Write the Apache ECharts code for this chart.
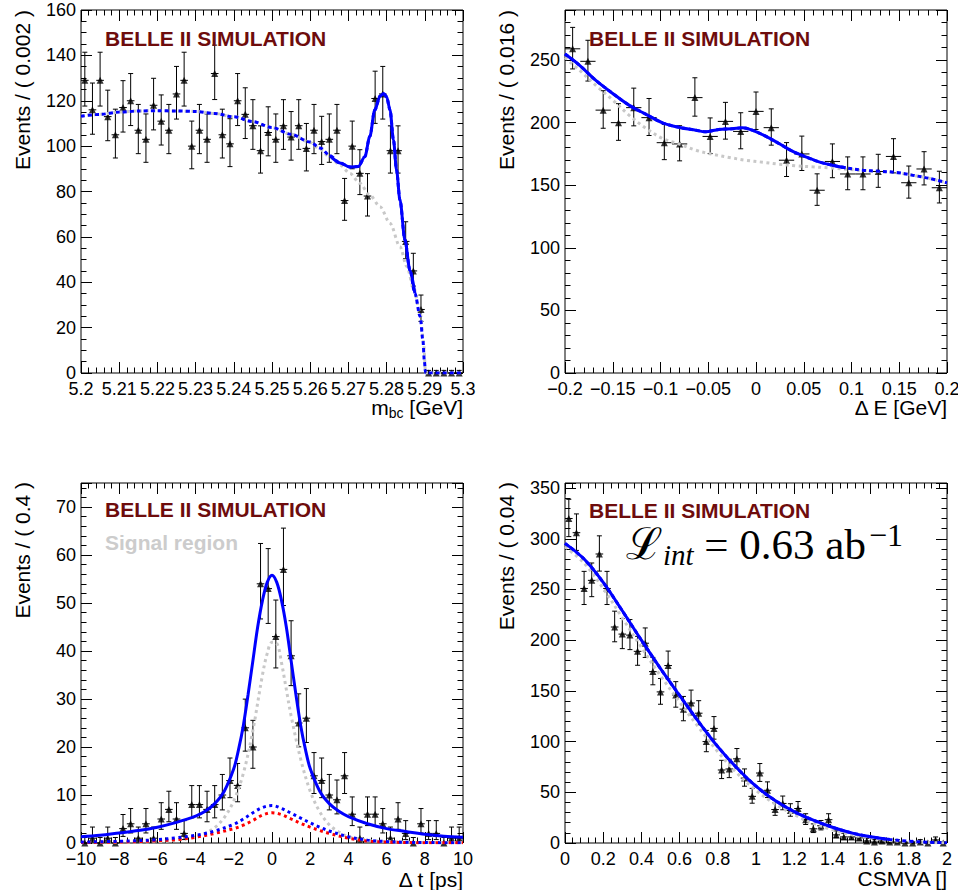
<!DOCTYPE html>
<html>
<head>
<meta charset="utf-8">
<script src="https://cdn.jsdelivr.net/npm/echarts@6.0.0/dist/echarts.min.js"></script>
<style>
  html, body { margin: 0; padding: 0; background: #fff; }
  #chart { width: 958px; height: 890px; }
</style>
</head>
<body>
<div id="chart"></div>
<script>
// ---------- m_bc panel ----------
const mbcLow = 5.2, mbcBin = 0.002;
const mbcCounts = [129, 116, 129, 113, 105, 117, 120, 107, 103, 118, 111, 107, 123, 129, 100, 107, 103, 132, 105, 101,
  120, 114, 109, 98, 106, 103, 109, 104, 109, 99, 107, 102, 103, 107, 76, 100, 88, 78, 121, 123,
  98, 98, 58, 45, 28, 0, 0, 0, 0, 0];
const mbcTotal = [[5.200, 113.2], [5.205, 114.0], [5.210, 115.0], [5.215, 115.5], [5.220, 115.6], [5.225, 115.5],
  [5.230, 115.3], [5.235, 114.4], [5.240, 112.9], [5.245, 110.8], [5.250, 108.2], [5.255, 105.2], [5.260, 101.8],
  [5.2626, 99.2], [5.2652, 95.8], [5.2678, 92.6], [5.2704, 90.8], [5.2726, 91.0], [5.2743, 95.3], [5.2756, 104.2],
  [5.2769, 115.9], [5.2783, 122.1], [5.2792, 123.2], [5.2800, 121.8], [5.2809, 115.9], [5.2818, 102.7],
  [5.2826, 89.5], [5.2835, 76.2], [5.2848, 58.6], [5.2861, 45.4], [5.2874, 35.1], [5.2888, 24.8], [5.2895, 14.5],
  [5.2899, 5.0], [5.2902, 0], [5.2920, 0], [5.3000, 0]];
const mbcBkg = [[5.200, 113.2], [5.205, 114.0], [5.210, 115.0], [5.215, 115.5], [5.220, 115.6], [5.225, 115.5],
  [5.230, 115.3], [5.235, 114.4], [5.240, 112.9], [5.245, 110.8], [5.250, 108.2], [5.255, 105.2], [5.260, 101.6],
  [5.2626, 98.5], [5.2652, 95.0], [5.2678, 91.7], [5.2704, 88.0], [5.2730, 83.6], [5.2756, 78.4], [5.2783, 73.3],
  [5.2809, 66.0], [5.2835, 55.7], [5.2853, 46.9], [5.2870, 38.1], [5.2888, 26.4], [5.2897, 13.2], [5.2902, 0],
  [5.2920, 0], [5.3000, 0]];
const mbcXLabels = ['5.2', '5.21', '5.22', '5.23', '5.24', '5.25', '5.26', '5.27', '5.28', '5.29', '5.3'];
const mbcYLabels = ['0', '20', '40', '60', '80', '100', '120', '140', '160'];

// ---------- Delta E panel ----------
const deLow = -0.2, deBin = 0.016;
const deCounts = [259, 249, 210, 200, 212, 204, 184, 183, 220, 189, 201, 193, 209, 196, 170, 175, 146, 169, 159, 159,
  161, 173, 152, 163, 148];
const deTotal = [[-0.2, 254.8], [-0.185, 246], [-0.168, 234], [-0.15, 223.3], [-0.133, 214], [-0.115, 206.6],
  [-0.098, 199.9], [-0.08, 196.2], [-0.063, 194], [-0.053, 192.7], [-0.039, 194.6], [-0.025, 195.1], [-0.014, 195.9],
  [-0.004, 194], [0.01, 189.2], [0.024, 183.4], [0.038, 177.2], [0.052, 172.7], [0.066, 168.7], [0.08, 166],
  [0.094, 163.9], [0.112, 162], [0.129, 161.2], [0.147, 160.2], [0.164, 158], [0.182, 155.4], [0.2, 151.9]];
const deBkg = [[-0.2, 252], [-0.185, 242], [-0.168, 230], [-0.15, 218], [-0.133, 206], [-0.115, 195.4],
  [-0.098, 187.4], [-0.08, 182.8], [-0.063, 178], [-0.046, 174.8], [-0.028, 172.2], [-0.011, 170], [0.007, 168.4],
  [0.024, 166.8], [0.042, 165.5], [0.059, 164.7], [0.077, 163.9], [0.094, 162.8], [0.112, 161.8], [0.129, 161.0],
  [0.147, 160.0], [0.164, 158], [0.182, 155.4], [0.2, 151.9]];
const deXLabels = ['\u22120.2', '\u22120.15', '\u22120.1', '\u22120.05', '0', '0.05', '0.1', '0.15', '0.2'];
const deYLabels = ['0', '50', '100', '150', '200', '250'];

// ---------- Delta t panel ----------
const dtLow = -10, dtBin = 0.4;
const dtCounts = [0, 1, 0, 1, 0, 3, 4, 1, 4, 1, 5, 7, 5, 2, 8, 8, 7, 8, 10, 13,
  12, 24, 20, 54, 53, 43, 57, 39, 25, 26, 14, 13, 10, 9, 14, 6, 1, 6, 6, 4,
  1, 5, 2, 0, 4, 2, 2, 0, 1, 1];
const dtTotal = [[-10, 1.3], [-9, 1.6], [-8, 2.1], [-7, 2.6], [-6, 3.3], [-5, 4.3], [-4, 5.6], [-3.5, 6.6], [-3, 8.2],
  [-2.5, 10.8], [-2, 15.5], [-1.75, 19.5], [-1.5, 24.5], [-1.25, 31], [-1, 38], [-0.75, 45], [-0.5, 50.5],
  [-0.25, 54.3], [0, 55.8], [0.25, 54.3], [0.5, 50.5], [0.75, 45], [1, 38], [1.25, 31], [1.5, 24.5], [1.75, 19.5],
  [2, 15.5], [2.5, 10.8], [3, 8.2], [3.5, 6.6], [4, 5.5], [5, 4.0], [6, 3.0], [7, 2.4], [8, 1.8], [9, 1.4], [10, 1.2]];
const dtSignal = [[-10, 0.1], [-8, 0.1], [-6, 0.3], [-5, 0.6], [-4, 1.3], [-3.5, 2.0], [-3, 3.2], [-2.5, 5.3],
  [-2, 8.8], [-1.5, 14.5], [-1, 23.5], [-0.5, 35], [-0.25, 39.5], [0, 41.8], [0.25, 41.6], [0.5, 37.5], [0.75, 32],
  [1, 26.5], [1.5, 17.5], [2, 10.8], [2.5, 6.5], [3, 3.8], [3.5, 2.3], [4, 1.3], [5, 0.6], [6, 0.3], [8, 0.1], [10, 0.1]];
const dtBlueComp = [[-10, 0.2], [-8, 0.35], [-6, 0.7], [-5, 1.1], [-4, 1.6], [-3, 2.5], [-2, 3.9], [-1.5, 5.0],
  [-1, 6.3], [-0.5, 7.4], [0, 7.8], [0.5, 7.2], [1, 6.2], [1.5, 5.2], [2, 4.2], [2.5, 3.3], [3, 2.5], [4, 1.3],
  [5, 0.6], [6, 0.3], [7, 0.15], [8, 0.1], [10, 0.05]];
const dtRedComp = [[-10, 0.1], [-8, 0.2], [-7, 0.3], [-6, 0.45], [-5, 0.7], [-4, 1.2], [-3, 2.0], [-2, 3.0],
  [-1.5, 3.7], [-1, 4.7], [-0.5, 5.8], [0, 6.3], [0.5, 5.9], [1, 5.0], [1.5, 4.1], [2, 3.3], [2.5, 2.6], [3, 2.0],
  [4, 1.0], [5, 0.4], [6, 0.2], [7, 0.1], [8, 0.05], [10, 0.05]];
const dtXLabels = ['\u221210', '\u22128', '\u22126', '\u22124', '\u22122', '0', '2', '4', '6', '8', '10'];
const dtYLabels = ['0', '10', '20', '30', '40', '50', '60', '70'];

// ---------- CSMVA panel ----------
const csLow = 0, csBin = 0.04;
const csCounts = [320, 306, 251, 259, 285, 251, 213, 206, 205, 189, 197, 169, 149, 175, 146, 132, 138, 128, 100, 113,
  72, 73, 83, 64, 46, 69, 52, 33, 39, 32, 34, 23, 14, 17, 23, 8, 6, 6, 5, 2,
  1, 2, 1, 1, 0, 0, 1, 0, 3, 0];
const csTotal = [[0, 295.5], [0.1, 280], [0.2, 257], [0.3, 229], [0.4, 200], [0.5, 172], [0.6, 145.5], [0.7, 119.5],
  [0.8, 95], [0.9, 74], [1.0, 56], [1.1, 42], [1.2, 31], [1.3, 22.5], [1.4, 15.5], [1.5, 10], [1.6, 6.2], [1.7, 3.5],
  [1.8, 1.8], [1.9, 0.8], [2.0, 0.3]];
const csBkg = [[0, 292], [0.1, 276], [0.2, 251], [0.3, 222], [0.4, 193], [0.5, 165], [0.6, 139], [0.7, 114],
  [0.8, 90], [0.9, 69], [1.0, 52], [1.1, 38.5], [1.2, 28], [1.3, 19.5], [1.4, 13], [1.5, 8], [1.6, 4.8], [1.7, 2.5],
  [1.8, 1.1], [1.9, 0.4], [2.0, 0.1]];
const csXLabels = ['0', '0.2', '0.4', '0.6', '0.8', '1', '1.2', '1.4', '1.6', '1.8', '2'];
const csYLabels = ['0', '50', '100', '150', '200', '250', '300', '350'];

const FONT = '"Liberation Sans", Arial, Helvetica, sans-serif';
const SERIF = '"Liberation Serif", "DejaVu Serif", serif';
const BELLE_RED = '#6e0c0c';
const BLUE = '#0000ff';
const GRAY = '#c8c8c8';

// poisson 68% interval (Gehrels approximation), like RooFit data points
function poissonBand(n) {
  if (n === 0) return [0, 1.148];
  const lo = n * Math.pow(1 - 1 / (9 * n) - 1 / (3 * Math.sqrt(n)), 3);
  const hi = n + Math.sqrt(n + 0.75) + 1;
  return [lo, hi];
}

function makeAxes(dim, gi, min, max, major, minor, labels) {
  const sides = dim === 'x' ? ['bottom', 'top'] : ['left', 'right'];
  const out = [];
  sides.forEach((pos, si) => {
    [[major, 11], [minor, 5.5]].forEach(([step, len], ki) => {
      const withLabels = si === 0 && ki === 0;
      out.push({
        type: 'value', gridIndex: gi, position: pos, min: min, max: max, interval: step,
        axisLine: { show: false, onZero: false },
        splitLine: { show: false },
        axisTick: { show: true, inside: true, length: len, lineStyle: { color: '#000', width: 1 } },
        axisLabel: withLabels ? {
          show: true, fontSize: 18, fontFamily: FONT, color: '#000',
          margin: dim === 'x' ? 7 : 5, showMinLabel: true, showMaxLabel: true, hideOverlap: false,
          formatter: (v) => {
            const i = Math.round((v - min) / major);
            if (Math.abs(min + i * major - v) > major * 1e-3) return '';
            return labels[i] !== undefined ? labels[i] : '';
          }
        } : { show: false },
        silent: true
      });
    });
  });
  return out;
}

function errorBarItem(halfWidth) {
  return function (params, api) {
    const x = api.value(0), y = api.value(1), lo = api.value(2), hi = api.value(3);
    const pLo = api.coord([x, lo]);
    const pHi = api.coord([x, hi]);
    const pL = api.coord([x - halfWidth, y]);
    const pR = api.coord([x + halfWidth, y]);
    const cap = 2.5;
    const style = { stroke: '#000', lineWidth: 1 };
    return {
      type: 'group',
      children: [
        { type: 'line', shape: { x1: pLo[0], y1: pLo[1], x2: pHi[0], y2: pHi[1] }, style: style },
        { type: 'line', shape: { x1: pLo[0] - cap, y1: pLo[1], x2: pLo[0] + cap, y2: pLo[1] }, style: style },
        { type: 'line', shape: { x1: pHi[0] - cap, y1: pHi[1], x2: pHi[0] + cap, y2: pHi[1] }, style: style },
        { type: 'line', shape: { x1: pL[0], y1: pL[1], x2: pR[0], y2: pR[1] }, style: style }
      ]
    };
  };
}

function dataSeries(gi, low, bin, counts) {
  const pts = counts.map((n, i) => {
    const band = poissonBand(n);
    return [low + bin * (i + 0.5), n, band[0], band[1]];
  });
  return [
    {
      type: 'custom', xAxisIndex: 4 * gi, yAxisIndex: 4 * gi, data: pts,
      dimensions: ['x', 'y', 'lo', 'hi'], encode: { x: 0, y: 1 },
      renderItem: errorBarItem(bin / 2), clip: false, silent: true, z: 3
    },
    {
      type: 'scatter', xAxisIndex: 4 * gi, yAxisIndex: 4 * gi,
      data: pts.map(p => [p[0], p[1]]), symbol: 'triangle', symbolSize: 7,
      itemStyle: { color: '#000' }, clip: false, silent: true, z: 4
    }
  ];
}

// monotone smoothing only where the curve has a hard corner (m_bc end point)
function curve(gi, pts, color, dash, z, monotone) {
  return {
    type: 'line', xAxisIndex: 4 * gi, yAxisIndex: 4 * gi, data: pts,
    showSymbol: false, smooth: monotone ? 0.3 : 0.35, smoothMonotone: monotone ? 'x' : null,
    silent: true, z: z,
    lineStyle: { color: color, width: 3, type: dash, cap: 'butt' }
  };
}

const inRange = (pts, a, b) => pts.filter(p => p[0] >= a && p[0] <= b);

const grids = [
  { left: 81, top: 10, width: 382, height: 363 },
  { left: 565, top: 10, width: 382, height: 363 },
  { left: 81, top: 483, width: 382, height: 360 },
  { left: 565, top: 483, width: 382, height: 360 }
].map(g => Object.assign({
  show: true, borderColor: '#000', borderWidth: 1, backgroundColor: 'transparent',
  containLabel: false, outerBoundsMode: 'none'
}, g));

const xAxes = [].concat(
  makeAxes('x', 0, 5.2, 5.3, 0.01, 0.002, mbcXLabels),
  makeAxes('x', 1, -0.2, 0.2, 0.05, 0.01, deXLabels),
  makeAxes('x', 2, -10, 10, 2, 0.4, dtXLabels),
  makeAxes('x', 3, 0, 2, 0.2, 0.04, csXLabels)
);
const yAxes = [].concat(
  makeAxes('y', 0, 0, 160, 20, 5, mbcYLabels),
  makeAxes('y', 1, 0, 290, 50, 10, deYLabels),
  makeAxes('y', 2, 0, 75, 10, 2, dtYLabels),
  makeAxes('y', 3, 0, 355, 50, 10, csYLabels)
);

const DASH = [4, 3];
const DOT = [3, 3.5];

const series = [].concat(
  dataSeries(0, mbcLow, mbcBin, mbcCounts),
  [curve(0, mbcBkg, GRAY, DOT, 5, true),
   curve(0, mbcTotal, BLUE, DASH, 8, true),
   curve(0, inRange(mbcTotal, 5.2652, 5.2874), BLUE, 'solid', 9, true)],
  dataSeries(1, deLow, deBin, deCounts),
  [curve(1, deBkg, GRAY, DOT, 5),
   curve(1, deTotal, BLUE, DASH, 8),
   curve(1, inRange(deTotal, -0.2, 0.105), BLUE, 'solid', 9)],
  dataSeries(2, dtLow, dtBin, dtCounts),
  [curve(2, dtSignal, GRAY, DOT, 5),
   curve(2, dtRedComp, '#ff0000', DOT, 6),
   curve(2, dtBlueComp, BLUE, DOT, 7),
   curve(2, dtTotal, BLUE, 'solid', 9)],
  dataSeries(3, csLow, csBin, csCounts),
  [curve(3, csBkg, GRAY, DOT, 5),
   curve(3, csTotal, BLUE, DASH, 8),
   curve(3, inRange(csTotal, 0, 1.71), BLUE, 'solid', 9)]
);

function label(x, y, text, opts) {
  return {
    type: 'text', x: x, y: y, rotation: opts.rotation || 0, silent: true, z: 20,
    style: Object.assign({
      text: text, fill: '#000', fontFamily: FONT, fontSize: 21,
      align: opts.align || 'left', textAlign: opts.align || 'left',
      verticalAlign: 'middle', textVerticalAlign: 'middle'
    }, opts.style || {})
  };
}

const belle = (x, y) => label(x, y, 'BELLE II SIMULATION', {
  style: { fill: BELLE_RED, fontWeight: 'bold', fontSize: 21 }
});
const yTitle = (x, y, text) => label(x, y, text, { rotation: Math.PI / 2, align: 'right' });
const subRich = {
  a: { fontSize: 21, fontFamily: FONT, lineHeight: 26, verticalAlign: 'middle' },
  b: { fontSize: 14, fontFamily: FONT, lineHeight: 14, verticalAlign: 'bottom' }
};

const graphics = [
  belle(105, 38), belle(589, 38), belle(105, 509), belle(589, 510),
  label(105, 542, 'Signal region', { style: { fill: '#cccccc', fontWeight: 'bold', fontSize: 21 } }),
  yTitle(22.5, 10, 'Events / ( 0.002 )'),
  yTitle(506.5, 10, 'Events / ( 0.016 )'),
  yTitle(22, 482, 'Events / ( 0.4 )'),
  yTitle(506.5, 482, 'Events / ( 0.04 )'),
  label(463, 407, '{a|m}{b|bc}{a| [GeV]}', { align: 'right', style: { rich: subRich } }),
  label(947, 407, '\u0394 E [GeV]', { align: 'right' }),
  label(463, 879, '\u0394 t [ps]', { align: 'right' }),
  label(947, 878, 'CSMVA []', { align: 'right' }),
  label(626, 544, '{L|\u2112}{s|int}{m| = 0.63 ab}{p|\u22121}', {
    style: {
      rich: {
        L: { fontSize: 44, fontFamily: SERIF, lineHeight: 50, verticalAlign: 'middle' },
        s: { fontSize: 29, fontFamily: SERIF, fontStyle: 'italic', lineHeight: 29, verticalAlign: 'bottom' },
        m: { fontSize: 43, fontFamily: SERIF, lineHeight: 50, verticalAlign: 'middle' },
        p: { fontSize: 32, fontFamily: SERIF, lineHeight: 32, verticalAlign: 'top', padding: [0, 0, 0, 3] }
      }
    }
  })
];

const chart = echarts.init(document.getElementById('chart'), null, { renderer: 'svg' });
chart.setOption({
  animation: false,
  backgroundColor: '#fff',
  textStyle: { fontFamily: FONT },
  grid: grids,
  xAxis: xAxes,
  yAxis: yAxes,
  series: series,
  graphic: graphics
});
</script>
</body>
</html>
